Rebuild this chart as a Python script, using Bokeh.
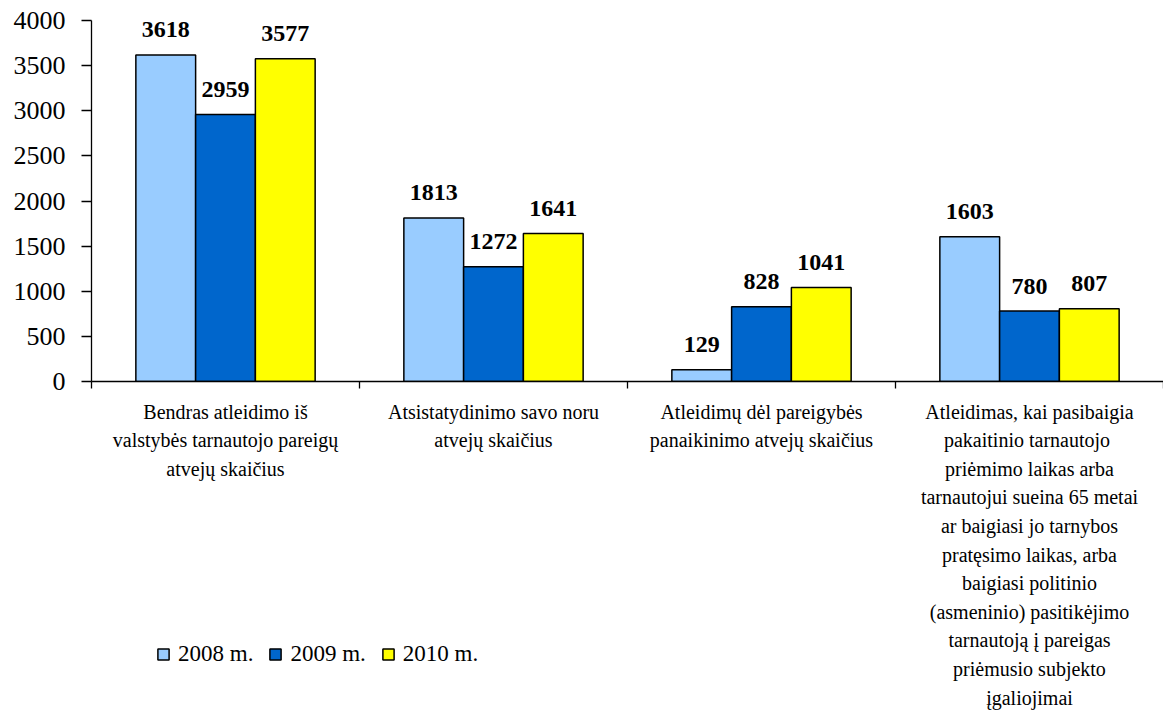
from bokeh.plotting import figure
from bokeh.layouts import column
from bokeh.models import Range1d, FixedTicker, ColumnDataSource, Legend, LegendItem
from bokeh.core.properties import value
from bokeh.embed import file_html
from bokeh.resources import INLINE

categories = [
    "Bendras atleidimo iš\nvalstybės tarnautojo pareigų\natvejų skaičius",
    "Atsistatydinimo savo noru\natvejų skaičius",
    "Atleidimų dėl pareigybės\npanaikinimo atvejų skaičius",
    "Atleidimas, kai pasibaigia\npakaitinio  tarnautojo\npriėmimo laikas arba\ntarnautojui sueina 65 metai\nar baigiasi jo tarnybos\npratęsimo laikas, arba\nbaigiasi politinio\n(asmeninio) pasitikėjimo\ntarnautoją į pareigas\npriėmusio subjekto\nįgaliojimai",
]
series_names = ["2008 m.", "2009 m.", "2010 m."]
v2008 = [3618, 1813, 129, 1603]
v2009 = [2959, 1272, 828, 780]
v2010 = [3577, 1641, 1041, 807]
colors = ["#99CCFF", "#0066CC", "#FFFF00"]
y_ticks = [0, 500, 1000, 1500, 2000, 2500, 3000, 3500, 4000]

FONT = "Liberation Serif"
BAR_W = 0.223
offsets = [-BAR_W, 0.0, BAR_W]
W = 1163
HA = 396
HB = 715 - HA

xr = Range1d(0, len(categories))
series = [v2008, v2009, v2010]

# ---------------- chart figure ----------------
p = figure(width=W, height=HA, output_backend="svg", toolbar_location=None,
           x_range=xr, y_range=Range1d(0, 4000),
           min_border_left=91, min_border_right=0, min_border_top=20, min_border_bottom=15)
p.outline_line_color = None
p.xgrid.grid_line_color = None
p.ygrid.grid_line_color = None

for vals, off, col in zip(series, offsets, colors):
    xs = [i + 0.5 + off for i in range(len(categories))]
    src = ColumnDataSource(dict(x=xs, top=vals, lbl=[str(v) for v in vals]))
    p.vbar(x="x", top="top", width=BAR_W, bottom=0, source=src,
           fill_color=col, line_color="black", line_width=1.5)
    p.text(x="x", y="top", text="lbl", source=src, text_align="center",
           text_baseline="alphabetic", y_offset=-25,
           text_font=value(FONT), text_font_size="24px", text_font_style="bold",
           text_color="black")

ya = p.yaxis[0]
ya.ticker = FixedTicker(ticks=y_ticks)
ya.major_tick_out = 10
ya.major_tick_in = 0
ya.minor_tick_out = 0
ya.minor_tick_in = 0
ya.axis_line_color = "black"
ya.axis_line_width = 1.3
ya.major_tick_line_width = 1.3
ya.major_label_text_font = FONT
ya.major_label_text_font_size = "26px"
ya.major_label_text_color = "black"
ya.major_label_standoff = 16

xa = p.xaxis[0]
bounds = [float(i) for i in range(len(categories) + 1)]
xa.ticker = FixedTicker(ticks=[], minor_ticks=bounds)
xa.major_tick_out = 0
xa.major_tick_in = 0
xa.minor_tick_out = 7
xa.minor_tick_in = 0
xa.minor_tick_line_color = "black"
xa.minor_tick_line_width = 1.3
xa.axis_line_color = "black"
xa.axis_line_width = 1.3
xa.major_label_standoff = 0

# ---------------- category labels + legend ----------------
q = figure(width=W, height=HB, output_backend="svg", toolbar_location=None,
           x_range=xr, y_range=Range1d(-HB, 0), x_axis_type=None, y_axis_type=None,
           min_border_left=91, min_border_right=0, min_border_top=0, min_border_bottom=0)
q.outline_line_color = None
q.xgrid.grid_line_color = None
q.ygrid.grid_line_color = None

centers = [i + 0.5 for i in range(len(categories))]
lsrc = ColumnDataSource(dict(x=centers, y=[0] * len(categories), t=categories))
q.text(x="x", y="y", text="t", source=lsrc, text_align="center", text_baseline="top",
       y_offset=4, text_font=value(FONT), text_font_size="20px", text_line_height=1.3,
       text_color="black")

# legend swatches: zero-size bars (nothing visible in this panel), styled like the real bars
leg_renderers = []
for vals, off, col in zip(series, offsets, colors):
    xs = [i + 0.5 + off for i in range(len(categories))]
    s = ColumnDataSource(dict(x=xs, top=[0] * len(vals), bottom=[0] * len(vals)))
    r = q.vbar(x="x", top="top", bottom="bottom", width=0, source=s,
               fill_color=col, line_color="black", line_width=1.5)
    leg_renderers.append(r)

legend = Legend(items=[LegendItem(label=n, renderers=[r]) for n, r in zip(series_names, leg_renderers)],
                orientation="horizontal", location=(65, 48),
                label_text_font=FONT, label_text_font_size="23px", label_text_color="black",
                glyph_width=14, glyph_height=14, label_height=14, label_standoff=8, spacing=15,
                padding=0, margin=0, border_line_color=None, background_fill_alpha=0)
q.add_layout(legend, "center")

open("out.html", "w").write(file_html(column(p, q), INLINE))
